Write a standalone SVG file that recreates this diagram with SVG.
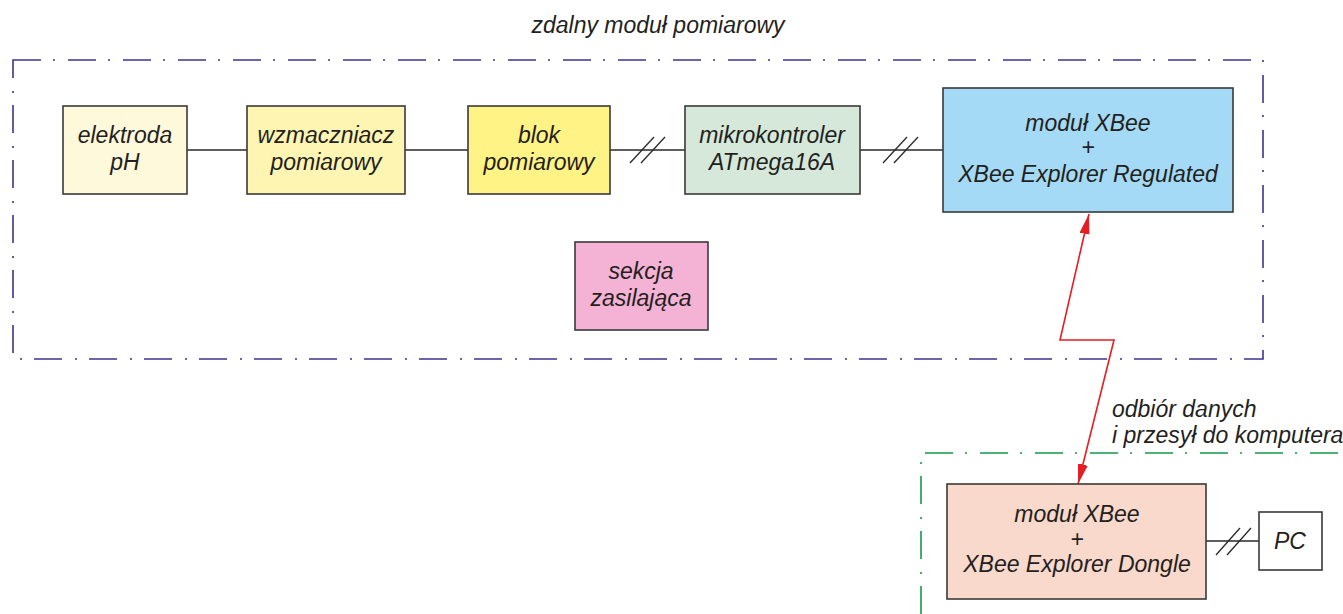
<svg xmlns="http://www.w3.org/2000/svg" width="1343" height="614" viewBox="0 0 1343 614">
<style>
text{font-family:"Liberation Sans",Arial,sans-serif;font-style:italic;font-size:23px;fill:#231f20;text-anchor:middle}
.box{stroke:#3a3a3a;stroke-width:1.6}
.ln{stroke:#2a2a2a;stroke-width:1.3;fill:none}
.frameB{fill:none;stroke:#3c338f;stroke-width:1.6;stroke-dasharray:28 12 2 13}
.frameG{fill:none;stroke:#14994a;stroke-width:1.6;stroke-dasharray:28 12 2 13}
</style>
<defs>
<marker id="ah" markerUnits="userSpaceOnUse" markerWidth="24" markerHeight="16" viewBox="-20 -8 24 16" refX="0" refY="0" orient="auto-start-reverse">
<path d="M0,0 L-22,-5.5 L-22,5.5 z" fill="#e31e24"/>
</marker>
</defs>
<rect width="1343" height="614" fill="#fff"/>
<text x="658" y="33">zdalny moduł pomiarowy</text>
<g id="frame-remote"><path class="frameB" d="M13,60 H1263 V359 H13 Z"/></g>
<g id="frame-receiver"><path class="frameG" d="M921,614 V453 H1343"/></g>
<g id="connectors">
<path class="ln" d="M187,150 H247 M405,150 H468 M610,150 H685 M860,150 H943 M1206,541 H1259"/>
<path class="ln" d="M630,163 L654,137 M641,163 L665,137 M883,163 L907,137 M894,163 L918,137 M1216,555 L1240,528 M1227,555 L1251,528"/>
<path d="M1089,214 L1060,340 L1114,340 L1078,484" fill="none" stroke="#e31e24" stroke-width="1.6" marker-start="url(#ah)" marker-end="url(#ah)"/>
</g>
<g id="n-elektroda"><rect class="box" x="63" y="106" width="124" height="88" fill="#fff9dc"/><text x="125" y="143">elektroda</text><text x="125" y="170">pH</text></g>
<g id="n-wzmacniacz"><rect class="box" x="247" y="106" width="158" height="88" fill="#fff5b2"/><text x="326" y="143">wzmaczniacz</text><text x="326" y="170">pomiarowy</text></g>
<g id="n-blok"><rect class="box" x="468" y="106" width="142" height="88" fill="#fff386"/><text x="539" y="143">blok</text><text x="539" y="170">pomiarowy</text></g>
<g id="n-mikro"><rect class="box" x="685" y="106" width="175" height="88" fill="#d5e8da"/><text x="772" y="143">mikrokontroler</text><text x="772" y="170">ATmega16A</text></g>
<g id="n-xbee-reg"><rect class="box" x="943" y="88" width="290" height="124" fill="#a4daf5"/><text x="1088" y="131">moduł XBee</text><text x="1088" y="155">+</text><text x="1088" y="182">XBee Explorer Regulated</text></g>
<g id="n-zasilanie"><rect class="box" x="575" y="242" width="133" height="88" fill="#f4b2d5"/><text x="641" y="279">sekcja</text><text x="641" y="306">zasilająca</text></g>
<g id="lbl-radio"><text x="1112" y="417" style="text-anchor:start">odbiór danych</text><text x="1112" y="443" style="text-anchor:start">i przesył do komputera</text></g>
<g id="n-xbee-dongle"><rect class="box" x="947" y="484" width="259" height="115" fill="#f9d9cb"/><text x="1077" y="522">moduł XBee</text><text x="1077" y="547">+</text><text x="1077" y="572">XBee Explorer Dongle</text></g>
<g id="n-pc"><rect class="box" x="1259" y="512" width="63" height="58" fill="#fff"/><text x="1290" y="549">PC</text></g>
</svg>
